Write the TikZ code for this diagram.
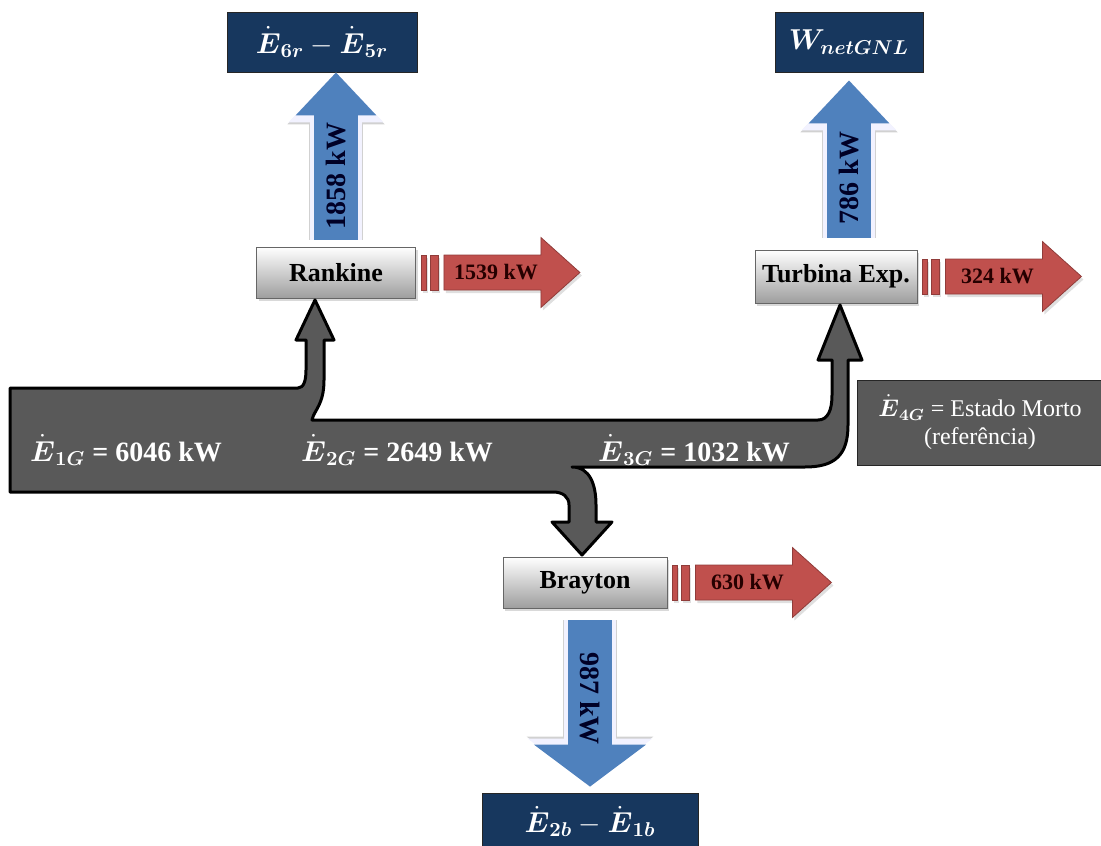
\documentclass[tikz,border=0pt]{standalone}
\usepackage{amsmath}
\usepackage{fontspec}
\setmainfont{Liberation Serif}
\usetikzlibrary{arrows.meta,calc,shadows}
\definecolor{navy}{RGB}{23,55,94}
\definecolor{flowgrey}{RGB}{89,89,89}
\definecolor{lossred}{RGB}{192,80,77}
\definecolor{workblue}{RGB}{79,129,189}
\newcommand{\Ed}[1]{\ensuremath{\dot{\boldsymbol{E}}_{\boldsymbol{#1}}}}

\begin{document}
\begin{tikzpicture}[x=0.5pt,y=-0.5pt,
  cyc/.style={draw=black!60,top color=white,bottom color=black!38,minimum width=79.5pt,
              minimum height=25.5pt,inner sep=0pt,font=\fontsize{13}{15}\selectfont\bfseries,
              drop shadow={shadow xshift=1pt,shadow yshift=-1.5pt,opacity=0.3}},
  term/.style={draw=black!85,fill=navy,text=white,minimum height=30pt,inner sep=0pt,
               font=\fontsize{14}{16}\selectfont},
  dead/.style={draw=black!85,fill=flowgrey,text=white,minimum width=123pt,minimum height=42.5pt,
               inner sep=0pt,align=center,font=\fontsize{12}{14}\selectfont},
  flowlab/.style={text=white,font=\fontsize{14}{16}\selectfont\bfseries},
  band/.style={fill=flowgrey,draw=black,line width=1.5pt,line join=round},
  loss/.style={fill=lossred,draw=lossred!75!black,line width=0.4pt,
               drop shadow={shadow xshift=1pt,shadow yshift=-1.5pt,opacity=0.25}},
  losslab/.style={text=black!85!red,font=\fontsize{11}{13}\selectfont\bfseries},
  workshade/.style={black!18,line width=27pt,-{Triangle[length=26pt,width=47pt]},
                    xshift=1.2pt,yshift=-1.2pt},
  workglow/.style={blue!5,line width=26pt,-{Triangle[length=25pt,width=46pt]}},
  work/.style={workblue,line width=22pt,-{Triangle[length=21.5pt,width=39pt]}},
  worklab/.style={text=black!85!blue,font=\fontsize{14}{16}\selectfont\bfseries}]

\useasboundingbox (0,0) rectangle (1101,845);

\node[term,minimum width=95pt] (r65) at (322,42) {$\Ed{6r}-\Ed{5r}$};
\node[term,minimum width=74pt] (w) at (849,42) {$\boldsymbol{W_{netGNL}}$};
\node[term,minimum width=108pt,minimum height=28.5pt] (b21) at (590,821.5) {$\Ed{2b}-\Ed{1b}$};

\node[cyc] (rk) at (336,272.5) {Rankine};
\node[cyc,minimum width=81pt,minimum height=26.5pt] (tb) at (836,276.5) {Turbina Exp.};
\node[cyc,minimum width=82pt] (br) at (585,582.5) {Brayton};

\node[dead] (em) at (980,422.5) {\Ed{4G} = Estado Morto\\(referência)};

\draw[band] (10,388) -- (298,388) .. controls (304,388) and (306,380) .. (306,370)
  -- (306,340) -- (296,340) -- (315,300) -- (334,340) -- (324,340) -- (324,380)
  .. controls (324,405) and (314,410) .. (312,420) -- (818,420)
  .. controls (828,420) and (832,410) .. (832,395) -- (832,360) -- (818,360)
  -- (840,305) -- (862,360) -- (848,360) -- (848,425)
  .. controls (848,455) and (835,467) .. (805,467) -- (572,467)
  .. controls (590,467) and (596,485) .. (596,505) -- (596,522) -- (612,522)
  -- (582,555) -- (552,522) -- (569,522) -- (569,505)
  .. controls (569,497) and (563,492) .. (553,492) -- (10,492) -- cycle;

\node[flowlab] (e1) at (126,450) {\Ed{1G} = 6046 kW};
\node[flowlab] (e2) at (397,450) {\Ed{2G} = 2649 kW};
\node[flowlab] (e3) at (694,450) {\Ed{3G} = 1032 kW};

\foreach \n/\v in {rk/1539, tb/324, br/630} {
  \fill[loss] ($(\n.east)+(5,-17.5)$) rectangle ($(\n.east)+(10,17.5)$);
  \fill[loss] ($(\n.east)+(14,-17.5)$) rectangle ($(\n.east)+(22,17.5)$);
  \filldraw[loss] ($(\n.east)+(28,-17.5)$) -- ++(97,0) -- ++(0,-17.5) -- ++(39,35)
    -- ++(-39,35) -- ++(0,-17.5) -- ++(-97,0) -- cycle;
  \node[losslab] at ($(\n.east)+(80,0)$) {\v~kW};
}

\draw[workshade] ($(rk.north)+(0,-7)$) -- (rk.north |- r65.south);
\draw[workglow] ($(rk.north)+(0,-7)$) -- (rk.north |- r65.south);
\draw[work] ($(rk.north)+(0,-7)$) -- (rk.north |- r65.south)
  node[worklab,pos=0.38,rotate=90] {1858 kW};
\draw[workshade] ($(tb.north -| w.south)+(0,-12)$) -- ($(w.south)+(0,8)$);
\draw[workglow] ($(tb.north -| w.south)+(0,-12)$) -- ($(w.south)+(0,8)$);
\draw[work] ($(tb.north -| w.south)+(0,-12)$) -- ($(w.south)+(0,8)$)
  node[worklab,pos=0.38,rotate=90] {786 kW};
\draw[workshade,-{Triangle[length=25pt,width=62pt]}] ($(br.south -| b21.north)+(0,12)$) -- ($(b21.north)+(0,-6)$);
\draw[workglow,-{Triangle[length=24pt,width=61pt]}] ($(br.south -| b21.north)+(0,12)$) -- ($(b21.north)+(0,-6)$);
\draw[work,-{Triangle[length=21pt,width=55pt]}] ($(br.south -| b21.north)+(0,12)$) -- ($(b21.north)+(0,-6)$)
  node[worklab,pos=0.47,rotate=-90] {987 kW};
\end{tikzpicture}
\end{document}
